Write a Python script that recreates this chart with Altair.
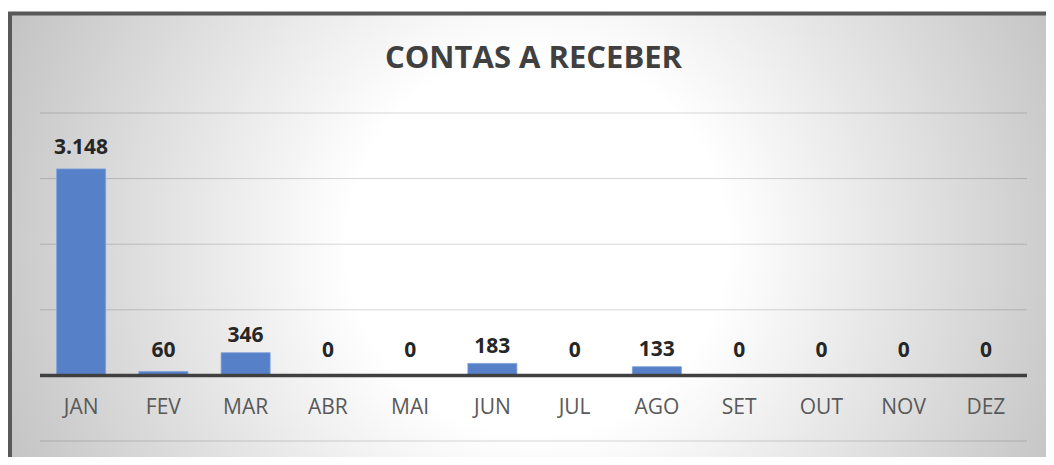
import altair as alt
import pandas as pd

meses = ["JAN", "FEV", "MAR", "ABR", "MAI", "JUN", "JUL", "AGO", "SET", "OUT", "NOV", "DEZ"]
valores = [3148, 60, 346, 0, 0, 183, 0, 133, 0, 0, 0, 0]
rotulos = [f"{v:,}".replace(",", ".") for v in valores]
grade = [-1000, 1000, 2000, 3000, 4000]
titulo = "CONTAS A RECEBER"

df = pd.DataFrame({"mes": meses, "valor": valores, "rotulo": rotulos})
um = pd.DataFrame({"a": [0], "t": [titulo]})
dg = pd.DataFrame({"g": grade})

W, H = 987, 328
PAD = {"left": 32, "top": 105, "right": 19, "bottom": 16}

xs = alt.Scale(domain=meses, paddingInner=0.404, paddingOuter=0.202)
ys = alt.Scale(domain=[-1000, 4000], nice=False, zero=False)

gradiente = alt.RadialGradient(
    gradient="radial",
    x1=0.5, y1=0.5, r1=0,
    x2=0.5, y2=0.5, r2=0.6,
    stops=[
        alt.GradientStop(offset=0, color="#ffffff"),
        alt.GradientStop(offset=0.3, color="#ffffff"),
        alt.GradientStop(offset=1, color="#bababa"),
    ],
)

fundo = alt.Chart(um).mark_rect(fill=gradiente, stroke="#595959", strokeWidth=4).encode(
    x=alt.value(-30), x2=alt.value(W + 37), y=alt.value(-99.5), y2=alt.value(H + 34)
)

linhas = alt.Chart(dg).mark_rule(color="#000000", opacity=0.16, strokeWidth=1).encode(
    y=alt.Y("g:Q", scale=ys, axis=None), x=alt.value(0), x2=alt.value(W)
)

barras = alt.Chart(df).transform_calculate(base="0").mark_bar(
    color="#5681C9", stroke="#7d9fd8", strokeWidth=0.8
).encode(
    x=alt.X("mes:N", scale=xs, sort=meses, axis=None),
    y=alt.Y("valor:Q", scale=ys, axis=None),
    y2="base:Q",
)

zero = alt.Chart(um).mark_rule(color="#404040", strokeWidth=3.5).encode(
    y=alt.Y("a:Q", scale=ys, axis=None), x=alt.value(0), x2=alt.value(W)
)

valores_txt = alt.Chart(df).transform_calculate(
    ly="max(datum.valor * 1.02 + 160, 280)"
).mark_text(font="Open Sans", fontWeight="bold", fontSize=21, color="#262626", baseline="alphabetic").encode(
    x=alt.X("mes:N", scale=xs, sort=meses, axis=None),
    y=alt.Y("ly:Q", scale=ys, axis=None),
    text="rotulo:N",
)

meses_txt = alt.Chart(df).transform_calculate(my="-594").mark_text(
    font="Open Sans", fontSize=21, color="#595959", baseline="alphabetic"
).encode(
    x=alt.X("mes:N", scale=xs, sort=meses, axis=None),
    y=alt.Y("my:Q", scale=ys, axis=None),
    text="mes:N",
)

titulo_txt = alt.Chart(um).mark_text(
    font="Open Sans", fontWeight="bold", fontSize=31, color="#404040", baseline="alphabetic"
).encode(x=alt.value(W / 2), y=alt.value(-45), text="t:N")

chart = alt.layer(fundo, linhas, barras, zero, valores_txt, meses_txt, titulo_txt).properties(
    width=W, height=H, padding=PAD, autosize="none", background="#ffffff"
).configure_view(stroke=None)

chart.save("out.html", embed_options={"renderer": "svg", "actions": False})
